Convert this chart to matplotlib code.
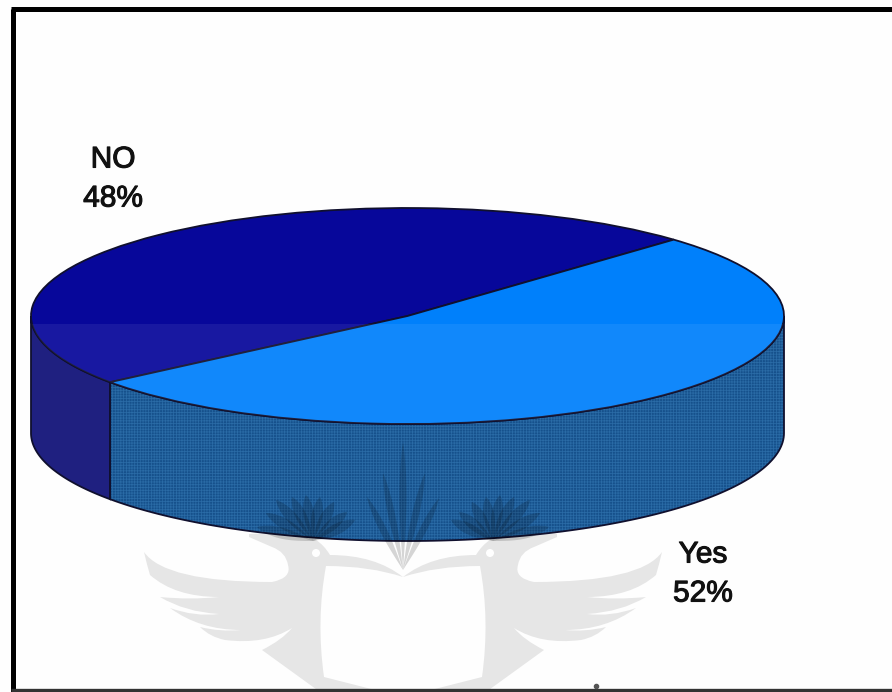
#!/usr/bin/env python3
"""Yes/No share as an extruded pie, with the crest printed behind it."""
import numpy as np
import matplotlib; matplotlib.use("Agg")
import matplotlib.pyplot as plt
import matplotlib.patheffects as pe
from matplotlib.patches import Ellipse, PathPatch, Polygon, Wedge
from matplotlib.path import Path
from matplotlib.transforms import Affine2D

plt.rcParams.update({"font.family": ["Liberation Sans", "DejaVu Sans"], "hatch.linewidth": 0.55})

labels = ["NO", "Yes"]
shares = [48, 52]
START_DEG = 45

# pie geometry, in figure pixels
CX, CY, RX, RY, DEPTH = 407.5, 316, 376.5, 108, 117

C_TOP = ["#07079a", "#0080fb"]
C_SIDE = ["#1f2080", "#16518c"]
C_GRID = ["#1f2080", "#2a6ba6"]
C_EDGE = "#10102e"
C_CREST = "#e6e6e6"

# left half of the crest: (control, end) pairs, control None for a straight run
WING_START = (144, 552)
WING = [((165, 582), (272, 582)), ((292, 578), (288, 565)), ((286, 552), (272, 547)),
        (None, (249, 537)), (None, (249, 534)), ((290, 532), (316, 540)),
        ((324, 545), (330, 555)), ((375, 555), (403, 577)), ((370, 566), (326, 566)),
        ((316, 620), (324, 677)), (None, (383, 692)), (None, (320, 692)), (None, (262, 650)),
        ((282, 640), (292, 628)), ((265, 645), (225, 640)), ((210, 637), (200, 627)),
        ((220, 632), (241, 630)), ((200, 630), (170, 608)), ((195, 617), (219, 614)),
        ((185, 612), (160, 597)), ((190, 600), (219, 597)), ((175, 597), (150, 575)),
        ((147, 565), (144, 552))]
FAN_TIPS = [(257, 527), (266, 513), (276, 500), (292, 497), (306, 495), (320, 497), (334, 502),
            (347, 512), (355, 520)]
SPIKE_TIPS = [(403, 442), (383, 473), (425, 473), (367, 497), (439, 498)]
MIRROR_X = 806


def rim(t0, t1, dy=0.0, n=120):
    t = np.radians(np.linspace(t0, t1, n))
    return np.column_stack([CX + RX * np.cos(t), CY + dy - RY * np.sin(t)])


def wing_path(flip=False):
    fx = (lambda p: (MIRROR_X - p[0], p[1])) if flip else (lambda p: p)
    verts, codes = [fx(WING_START)], [Path.MOVETO]
    for ctrl, end in WING:
        if ctrl is None:
            verts.append(fx(end)); codes.append(Path.LINETO)
        else:
            verts += [fx(ctrl), fx(end)]; codes += [Path.CURVE3, Path.CURVE3]
    return Path(verts, codes)


def blade(ax, tip, base, width):
    tip, base = np.array(tip, float), np.array(base, float)
    d = base - tip
    nrm = np.array([-d[1], d[0]]) / np.hypot(*d)
    s = np.linspace(0, 1, 30)
    half = width * np.sin(np.pi * s ** 0.8)
    a = tip + s[:, None] * d + half[:, None] * nrm
    b = tip + s[:, None] * d - half[:, None] * nrm
    ax.add_patch(Polygon(np.vstack([a, b[::-1]]), fc="black", ec="none", alpha=0.16, zorder=6))


fig = plt.figure(figsize=(8.92, 6.92), dpi=100, facecolor="#fefefe")
ax = fig.add_axes([0, 0, 1, 1])
ax.set_xlim(0, 892); ax.set_ylim(692, 0); ax.axis("off")

# crest behind the pie
for flip in (False, True):
    ax.add_patch(PathPatch(wing_path(flip), fc=C_CREST, ec="none", zorder=1))
for x in (316, 490):
    ax.add_patch(Ellipse((x, 553), 8, 8, fc="white", ec="none", zorder=1.5))

# slice angles from the shares, running counter-clockwise from the start angle
edges = START_DEG + np.cumsum([0] + shares) * 3.6
top_tf = Affine2D().scale(RX, -RY).translate(CX, CY) + ax.transData

# walls: only the front half of the rim is visible
for i in range(len(shares)):
    t0 = max(edges[i], 180)
    t1 = min(edges[i + 1], 360)
    if t1 <= t0:
        continue
    wall = np.vstack([rim(t0, t1), rim(t0, t1, DEPTH)[::-1]])
    ax.add_patch(Polygon(wall, fc=C_SIDE[i], ec=C_GRID[i], hatch="++++++", lw=0, zorder=2))
    ax.add_patch(Polygon(wall, fc="none", ec=C_EDGE, lw=1.3, zorder=3))

# top face
for i in range(len(shares)):
    ax.add_patch(Wedge((0, 0), 1, edges[i], edges[i + 1], fc=C_TOP[i], ec=C_EDGE, lw=1.3,
                       transform=top_tf, zorder=4))

# lighter band across the lower part of the top face
band = ax.fill_between([0, 892], 324, 692, color="white", alpha=0.07, lw=0, zorder=5)
band.set_clip_path(Ellipse((0, 0), 2, 2, transform=top_tf))

# crest blades showing through the pie
for tip in FAN_TIPS:
    blade(ax, tip, (313, 541), 5.5)
    blade(ax, (MIRROR_X - tip[0], tip[1]), (MIRROR_X - 313, 541), 5.5)
for tip in SPIKE_TIPS:
    blade(ax, tip, (403, 570), 3.5)

# labels
label_xy = [(113, 179), (703, 574)]
for name, val, (x, y) in zip(labels, shares, label_xy):
    ax.text(x, y, f"{name}\n{val}%", ha="center", va="center", fontsize=21.5, color="#111111",
            linespacing=1.5, zorder=8,
            path_effects=[pe.withStroke(linewidth=0.8, foreground="#111111")])

# frame
ax.plot([12.5, 12.5], [692, 8.5], color="black", lw=3.6, solid_capstyle="butt", zorder=9)
ax.plot([11, 892], [8.5, 8.5], color="black", lw=3.6, solid_capstyle="butt", zorder=9)
ax.plot([11, 892], [690, 690], color="#333333", lw=2.4, solid_capstyle="butt", zorder=9)
ax.plot([596], [686], marker="o", ms=3, color="#555555", zorder=9)

fig.savefig("out.png", dpi=100, facecolor=fig.get_facecolor())
